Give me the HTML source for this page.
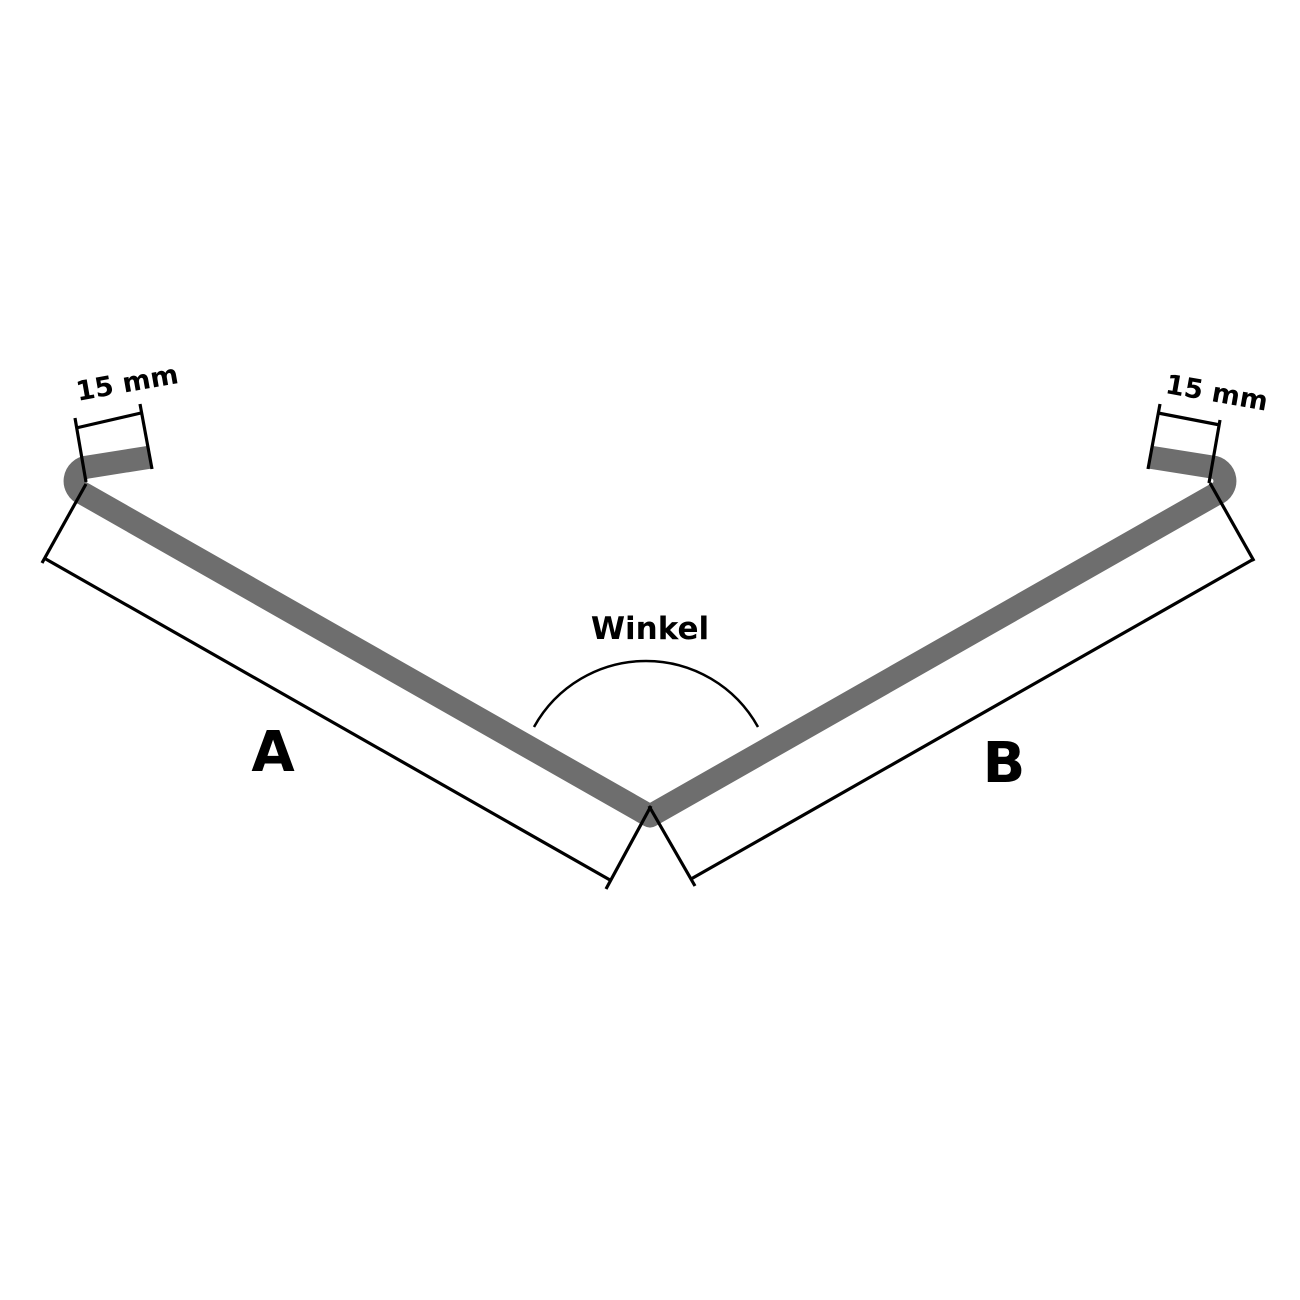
<!DOCTYPE html>
<html><head><meta charset="utf-8"><style>
html,body{margin:0;padding:0;background:#fff;}
svg{display:block;}
text{font-family:"DejaVu Sans","Liberation Sans",sans-serif;font-weight:bold;fill:#000;}
</style></head><body>
<svg width="1300" height="1300" viewBox="0 0 1300 1300" xmlns="http://www.w3.org/2000/svg">
<rect width="1300" height="1300" fill="#fff"/>
<path d="M151,457 L88,467 A14,14 0 0 0 84,494 L650,816 L1216,494 A14,14 0 0 0 1212,467 L1149,457" fill="none" stroke="#6e6e6e" stroke-width="23" stroke-linejoin="round" stroke-linecap="butt"/>
<g stroke="#000" stroke-width="3.2" fill="none" stroke-linecap="butt">
<line x1="75" y1="418" x2="86" y2="482"/>
<line x1="140" y1="404" x2="152" y2="469"/>
<line x1="76" y1="428" x2="141" y2="413"/>
<line x1="86" y1="484" x2="42" y2="563"/>
<line x1="44" y1="558" x2="610" y2="880"/>
<line x1="651" y1="806" x2="606" y2="889"/>
<line x1="649" y1="806" x2="695" y2="886"/>
<line x1="691" y1="879" x2="1252" y2="560"/>
<line x1="1210" y1="483" x2="1254" y2="561"/>
<line x1="1160" y1="404" x2="1148" y2="469"/>
<line x1="1220" y1="420" x2="1209" y2="483"/>
<line x1="1158" y1="413" x2="1220" y2="425"/>
<path d="M534,727 A128,128 0 0 1 758,727" stroke-width="2.5"/>
</g>
<text x="127" y="392" font-size="27" text-anchor="middle" transform="rotate(-10 127 382)">15 mm</text>
<text x="1217" y="402" font-size="27" text-anchor="middle" transform="rotate(10 1217 392)">15 mm</text>
<text x="650" y="639" font-size="31" text-anchor="middle">Winkel</text>
<text x="273" y="771" font-size="56" text-anchor="middle">A</text>
<text x="1004" y="782" font-size="56" text-anchor="middle">B</text>
</svg>
</body></html>
